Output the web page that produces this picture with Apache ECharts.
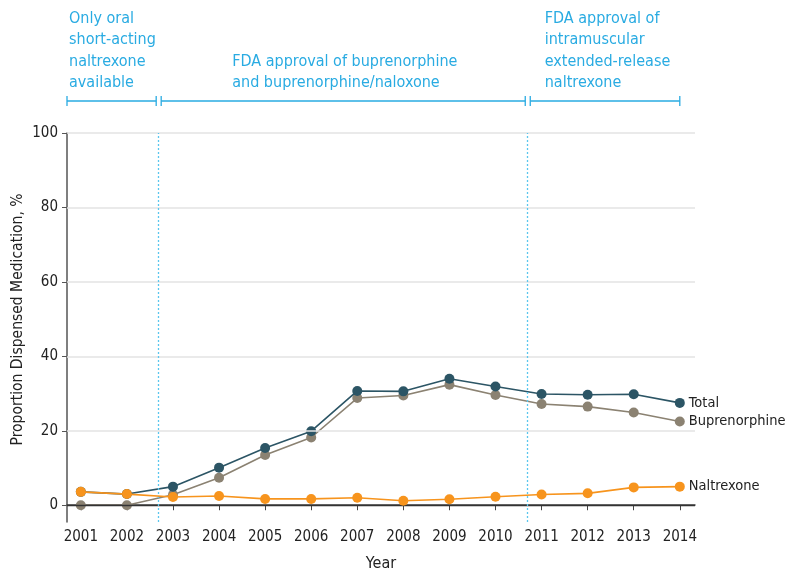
<!DOCTYPE html>
<html>
<head>
<meta charset="utf-8">
<script src="https://cdn.jsdelivr.net/npm/echarts@6/dist/echarts.min.js"></script>
<style>html,body{margin:0;padding:0;background:#fff;}#c{width:787px;height:571px;}</style>
</head>
<body>
<div id="c"></div>
<script>
const years = [2001,2002,2003,2004,2005,2006,2007,2008,2009,2010,2011,2012,2013,2014];
const totalVals = [3.6,3.0,5.0,10.1,15.4,19.9,30.7,30.6,34.0,31.9,29.9,29.7,29.8,27.5];
const bupVals   = [0,0,2.8,7.4,13.5,18.2,28.8,29.5,32.4,29.6,27.2,26.5,24.9,22.5];
const naltVals  = [3.6,3.0,2.2,2.5,1.7,1.7,2.0,1.2,1.6,2.3,2.9,3.2,4.8,5.0];
const yTicks = [0,20,40,60,80,100];
const eventYears = [2002.69, 2010.7];
const annLeft = ['Only oral','short-acting','naltrexone','available'];
const annMid = ['FDA approval of buprenorphine','and buprenorphine/naloxone'];
const annRight = ['FDA approval of','intramuscular','extended-release','naltrexone'];

const FONT = '"Liberation Sans Narrow","DejaVu Sans Condensed","Open Sans",sans-serif';
const BLUE = '#29abe2';
const pairs = v => years.map((y,i)=>[y,v[i]]);

const chart = echarts.init(document.getElementById('c'), null, {renderer:'canvas'});
const lbl = {show:true, formatter:'{a}', color:'#222', fontSize:14.5, fontFamily:FONT, distance:9};
chart.setOption({
  animation:false,
  textStyle:{fontFamily:FONT},
  grid:{left:67, top:133, right:92, bottom:49, containLabel:false, outerBoundsMode:'none'},
  xAxis:{type:'value', min:2000.7, max:2014.33,
    name:'Year', nameLocation:'middle', nameGap:34, nameMoveOverlap:false,
    nameTextStyle:{fontSize:16, color:'#222', fontFamily:FONT},
    axisLine:{show:true, lineStyle:{color:'#444', width:1.5}},
    axisTick:{show:true, customValues:years, length:5, lineStyle:{color:'#444'}},
    axisLabel:{customValues:years, fontSize:15, color:'#222', fontFamily:FONT, margin:8, formatter:v=>String(v)},
    splitLine:{show:false}},
  yAxis:{type:'value', min:-4.5, max:100,
    name:'Proportion Dispensed Medication, %', nameLocation:'middle', nameGap:41, nameMoveOverlap:false,
    nameTextStyle:{fontSize:15.5, color:'#222', fontFamily:FONT, padding:[0,0,0,16]},
    axisLine:{show:true, lineStyle:{color:'#555', width:1.5}},
    axisTick:{show:true, customValues:yTicks, length:5, lineStyle:{color:'#555'}},
    axisLabel:{customValues:yTicks, fontSize:15, color:'#222', fontFamily:FONT, margin:9},
    splitLine:{show:false}},
  series:[
    {type:'line', name:'grid', data:[], z:1, silent:true,
      markLine:{silent:true, symbol:'none', label:{show:false},
        data:[
          ...yTicks.filter(v=>v>0).map(v=>({yAxis:v, lineStyle:{color:'#e3e3e3', width:1.6, type:'solid'}})),
          {yAxis:0, lineStyle:{color:'#333', width:1.3, type:'solid'}},
          ...eventYears.map(v=>({xAxis:v, lineStyle:{color:'#5bc6ee', width:1.3, type:[2,2]}}))
        ]}},
    {type:'line', name:'Buprenorphine', data:pairs(bupVals), z:3, symbol:'circle', symbolSize:10,
      itemStyle:{color:'#8b8272'}, lineStyle:{color:'#8b8272', width:1.6},
      endLabel:lbl},
    {type:'line', name:'Total', data:pairs(totalVals), z:4, symbol:'circle', symbolSize:10,
      itemStyle:{color:'#2c5565'}, lineStyle:{color:'#2c5565', width:1.6},
      endLabel:lbl},
    {type:'line', name:'Naltrexone', data:pairs(naltVals), z:5, symbol:'circle', symbolSize:10,
      itemStyle:{color:'#f7941d'}, lineStyle:{color:'#f7941d', width:1.6},
      endLabel:lbl}
  ]
});

// annotations above the plot
const px = x => chart.convertToPixel({xAxisIndex:0}, x);
const gx0 = 67;
const e1 = px(eventYears[0]), e2 = px(eventYears[1]), xEnd = px(2014);
const by = 101, th = 5;
function bracket(a,b){
  return [
    {type:'line', shape:{x1:a,y1:by,x2:b,y2:by}, style:{stroke:BLUE, lineWidth:1.3}},
    {type:'line', shape:{x1:a,y1:by-th,x2:a,y2:by+th}, style:{stroke:BLUE, lineWidth:1.3}},
    {type:'line', shape:{x1:b,y1:by-th,x2:b,y2:by+th}, style:{stroke:BLUE, lineWidth:1.3}}
  ];
}
const lh = 21.3;
function txt(lines, x, yTop, align){
  return {type:'text', x:x, y:yTop, style:{text:lines.join('\n'), fill:BLUE, font:'16px '+FONT, lineHeight:lh, align:align, verticalAlign:'top'}};
}
chart.setOption({graphic:{elements:[
  ...bracket(gx0, e1-2.5), ...bracket(e1+2.5, e2-2.5), ...bracket(e2+2.5, xEnd),
  txt(annLeft, gx0+2, 20-lh/2-1, 'left'),
  txt(annMid, (e1+e2)/2 - 111, 63-lh/2-1, 'left'),
  txt(annRight, e2+17, 20-lh/2-1, 'left')
]}});
</script>
</body>
</html>
